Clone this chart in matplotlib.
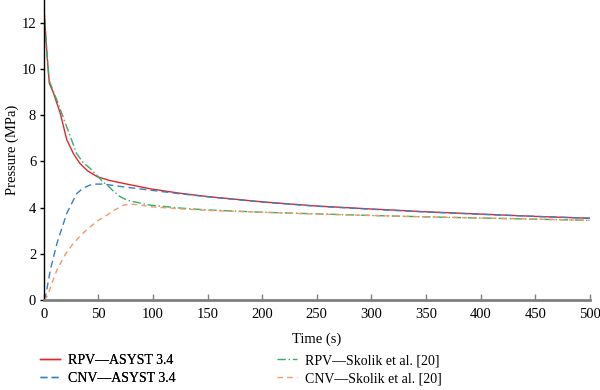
import matplotlib
matplotlib.use("Agg")
import matplotlib.pyplot as plt

plt.rcParams['font.family'] = ['Liberation Serif', 'DejaVu Serif']

# RPV — ASYST 3.4
t_rpv_asyst = [0, 1, 3, 5, 9, 15, 21, 27, 33, 40, 49, 60, 73, 97, 125, 150, 200, 250, 300, 350, 400, 450, 500]
p_rpv_asyst = [12.8, 12.0, 10.6, 9.4, 8.95, 8.1, 6.95, 6.35, 5.92, 5.6, 5.34, 5.18, 5.05, 4.82, 4.62, 4.48, 4.25, 4.07, 3.94, 3.82, 3.72, 3.62, 3.54]

# CNV — ASYST 3.4
t_cnv_asyst = [0, 1.4, 6, 12, 21, 30, 36, 42.5, 48, 54.7, 62, 73, 97, 125, 150, 200, 250, 300, 350, 400, 450, 500]
p_cnv_asyst = [0, 0.1, 1.3, 2.45, 3.75, 4.6, 4.85, 4.98, 5.02, 5.02, 4.97, 4.9, 4.76, 4.6, 4.47, 4.24, 4.06, 3.93, 3.81, 3.71, 3.62, 3.54]

# RPV — Skolik et al. [20]
t_rpv_skolik = [0, 1, 3, 5, 12, 21, 30, 36, 42.5, 48.6, 54, 58, 64, 70, 76, 82, 97, 125, 150, 200, 250, 300, 350, 400, 450, 500]
p_rpv_skolik = [12.8, 12.0, 10.6, 9.5, 8.66, 7.5, 6.35, 5.95, 5.7, 5.4, 5.12, 4.98, 4.7, 4.47, 4.33, 4.26, 4.11, 3.98, 3.9, 3.8, 3.73, 3.66, 3.6, 3.55, 3.5, 3.45]

# CNV — Skolik et al. [20]
t_cnv_skolik = [0, 3, 12, 20, 27, 35, 42.5, 50, 58, 65, 73, 80, 88, 97, 125, 150, 200, 250, 300, 350, 400, 450, 500]
p_cnv_skolik = [0, 0.14, 1.3, 2.0, 2.45, 2.85, 3.17, 3.45, 3.68, 3.9, 4.11, 4.15, 4.12, 4.04, 3.95, 3.88, 3.8, 3.72, 3.66, 3.6, 3.55, 3.5, 3.45]

x_ticks = [0, 50, 100, 150, 200, 250, 300, 350, 400, 450, 500]
y_ticks = [0, 2, 4, 6, 8, 10, 12]

fig = plt.figure(figsize=(6, 3.9), dpi=100)
ax = fig.add_axes([0.073, 0.231, 0.910, 0.769])

l1, = ax.plot(t_rpv_asyst, p_rpv_asyst, color='#e3262b', lw=1.0, label='RPV—ASYST 3.4')
l2, = ax.plot(t_cnv_asyst, p_cnv_asyst, color='#3a7fbf', lw=1.0, ls=(0, (5, 3)), label='CNV—ASYST 3.4')
l3, = ax.plot(t_rpv_skolik, p_rpv_skolik, color='#36ad6e', lw=1.0, ls=(0, (6, 2, 1, 2)), label='RPV—Skolik et al. [20]')
l4, = ax.plot(t_cnv_skolik, p_cnv_skolik, color='#f09a66', lw=1.0, ls=(0, (4, 3)), label='CNV—Skolik et al. [20]')

ax.set_xlim(0, 500)
ax.set_ylim(0, 13)
ax.set_xticks(x_ticks)
ax.set_yticks(y_ticks)

for s in ['top', 'right']:
    ax.spines[s].set_visible(False)
ax.spines['left'].set_color('black')
ax.spines['left'].set_linewidth(1.0)
ax.spines['bottom'].set_color('#7f7f7f')
ax.spines['bottom'].set_linewidth(2.0)

ax.tick_params(axis='x', direction='in', length=4, width=1, color='#7f7f7f', labelsize=10.5, pad=6)
ax.tick_params(axis='y', direction='out', length=3, width=1, color='black', labelsize=10.5, pad=2.5)

ax.set_xlabel('Time (s)', fontsize=10.5, labelpad=8)
ax.set_ylabel('Pressure (MPa)', fontsize=10.5, labelpad=2)

leg_kw = dict(loc='lower left', frameon=False, fontsize=10, handlelength=1.45,
              handletextpad=0.55, labelspacing=0.38, borderpad=0, borderaxespad=0)
leg1 = fig.legend(handles=[l1, l2], bbox_to_anchor=(0.067, 0.012), **leg_kw)
fig.add_artist(leg1)
fig.legend(handles=[l3, l4], bbox_to_anchor=(0.462, 0.012), **leg_kw)

fig.savefig('out.png', dpi=100)
